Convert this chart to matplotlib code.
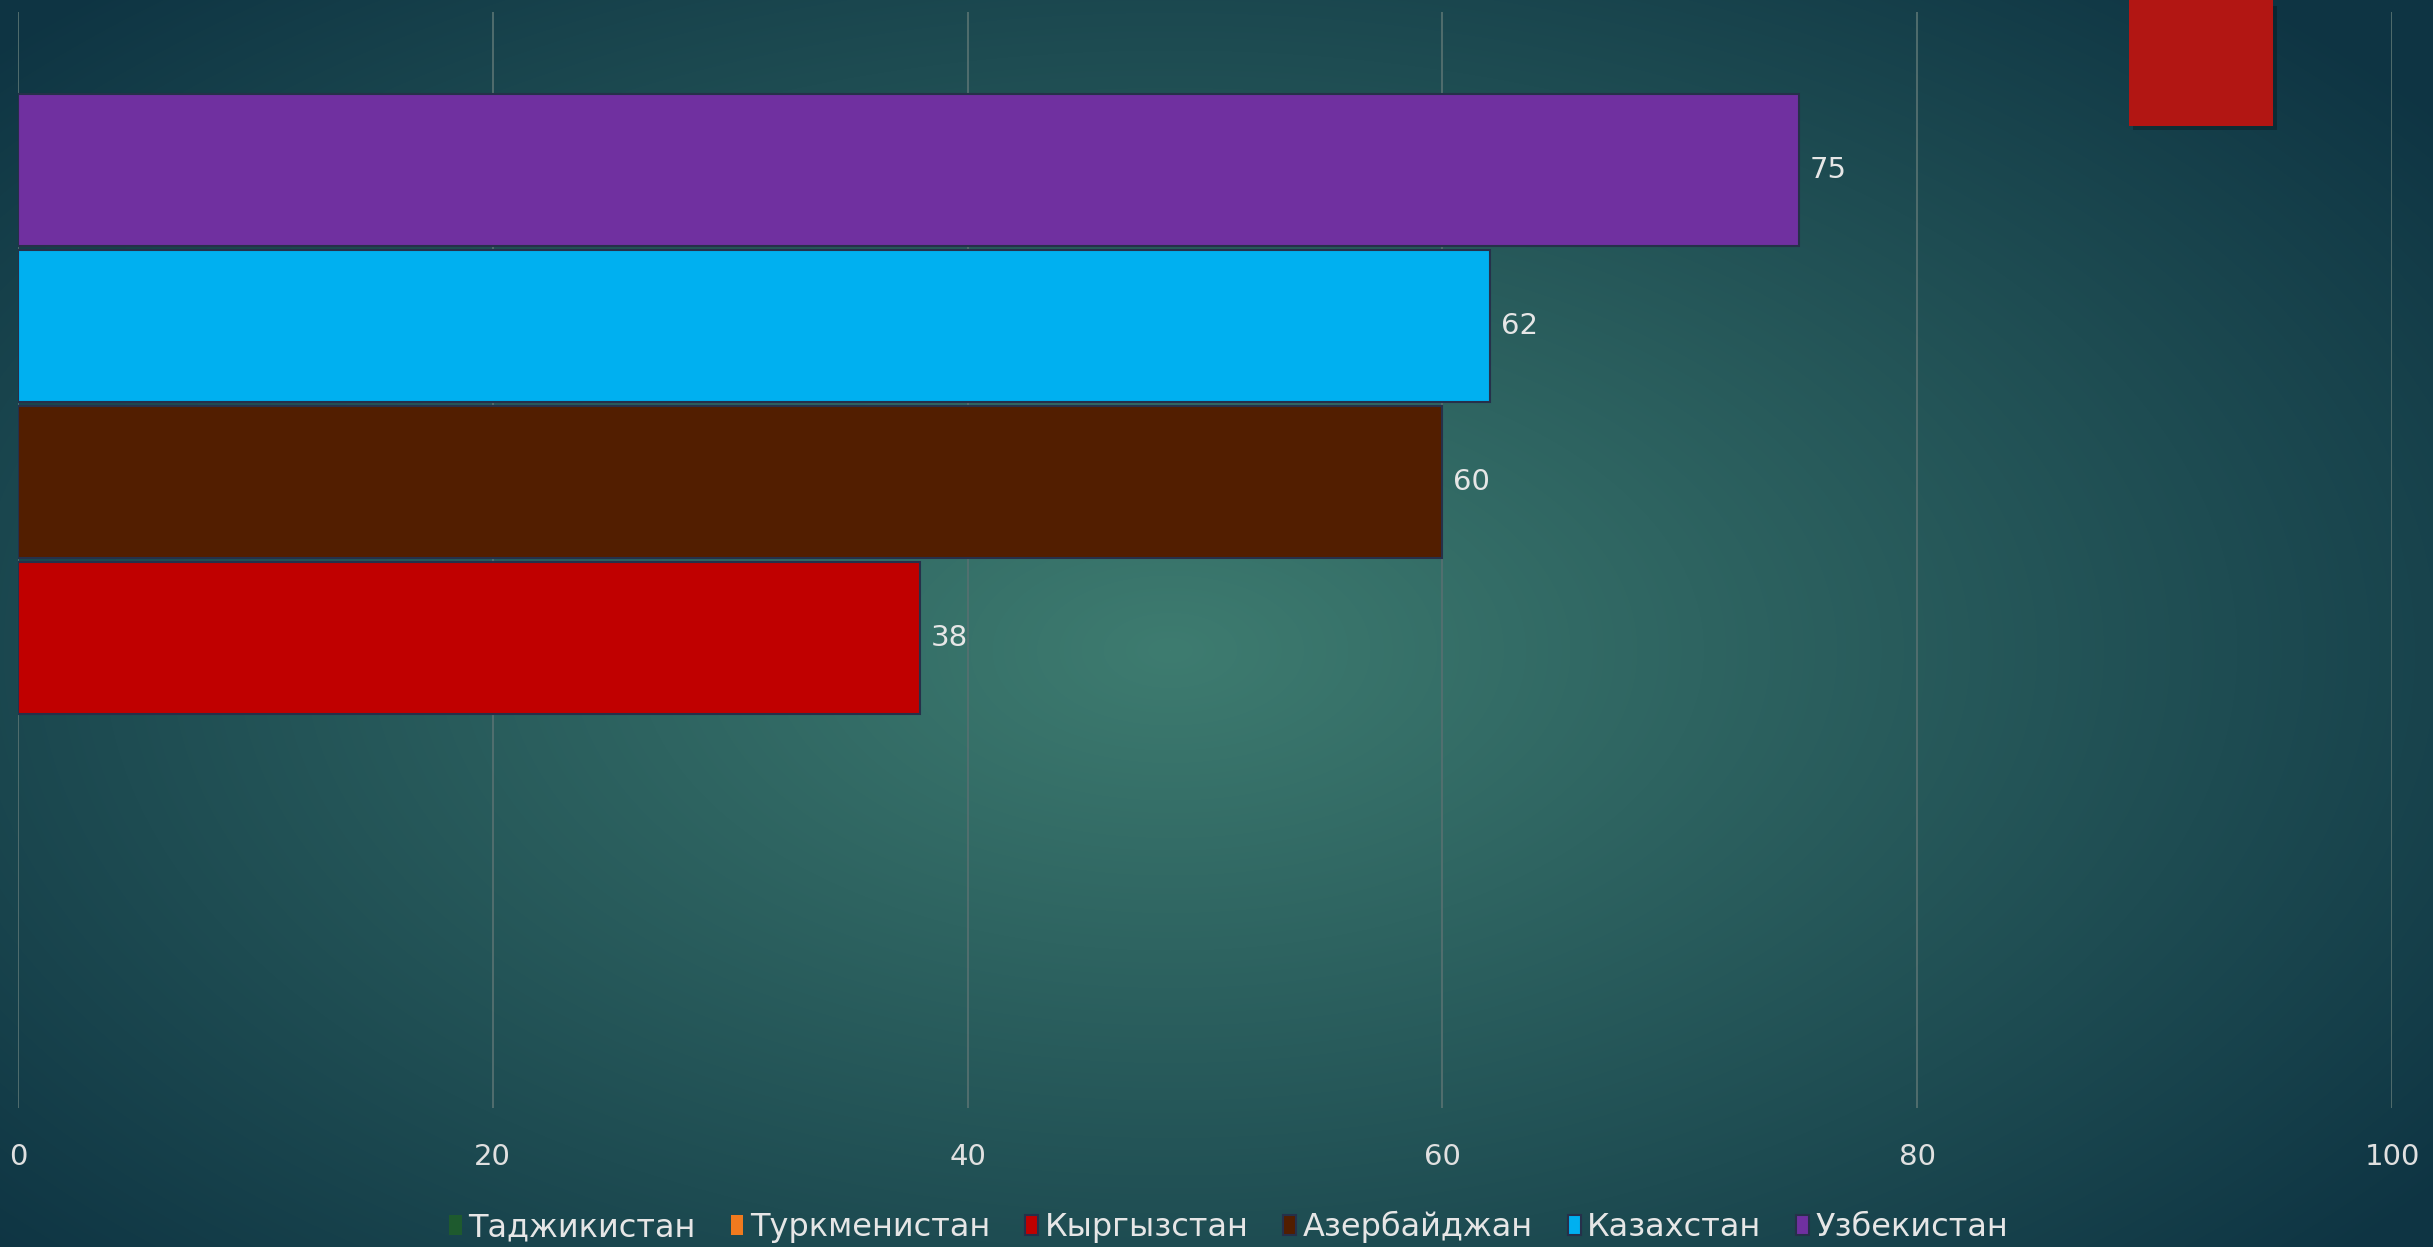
import numpy as np
import matplotlib.pyplot as plt
from matplotlib.colors import to_rgb
from matplotlib.patches import Rectangle

plt.rcParams['font.family'] = ['Liberation Sans Narrow', 'DejaVu Sans']

countries = ['Таджикистан', 'Туркменистан', 'Кыргызстан', 'Азербайджан', 'Казахстан', 'Узбекистан']
values = [0, 0, 38, 60, 62, 75]
colors = ['#1e5a2e', '#f07a1e', '#c00000', '#521e00', '#00b0f0', '#7030a0']
xticks = [0, 20, 40, 60, 80, 100]

W, H = 2433, 1247
fig = plt.figure(figsize=(W / 100, H / 100), dpi=100)

# фон: радиальный градиент
bg = fig.add_axes([0, 0, 1, 1], zorder=-10)
yy, xx = np.mgrid[0:H, 0:W]
r = np.sqrt(((xx - 1170) / 1600.0) ** 2 + ((yy - 650) / 900.0) ** 2)
r = np.clip(r, 0, 1) ** 1.0
c_in = np.array(to_rgb('#3e7c70'))
c_out = np.array(to_rgb('#0e3443'))
img = c_in[None, None, :] * (1 - r[..., None]) + c_out[None, None, :] * r[..., None]
bg.imshow(img, aspect='auto', extent=[0, W, H, 0])
bg.set_xlim(0, W)
bg.set_ylim(H, 0)
bg.axis('off')

# декоративный красный прямоугольник
bg.add_patch(Rectangle((2133, 6), 144, 124, color='#000000', alpha=0.25, lw=0))
bg.add_patch(Rectangle((2129, -2), 144, 128, color='#b21613', lw=0))

ax = fig.add_axes([18 / W, 1 - 1108 / H, (2392 - 18) / W, (1108 - 12) / H])
ax.set_facecolor('none')

for i, (name, v, c) in enumerate(zip(countries, values, colors)):
    ax.barh(i, v, height=0.98, color=c, edgecolor='#26304a' if v > 0 else 'none',
            linewidth=1.5, label=name, zorder=3)
    if v > 0:
        ax.text(v + 0.45, i, str(v), va='center', ha='left', fontsize=21,
                color='#e6e6e6', zorder=4)

ax.set_xlim(0, 100)
ax.set_ylim(-1.013, 6.013)
ax.set_xticks(xticks)
ax.set_yticks([])
ax.grid(axis='x', color='#557070', linewidth=1.3, zorder=0)
ax.tick_params(axis='x', length=0, pad=25, labelsize=21, labelcolor='#e0e0e0')
for s in ax.spines.values():
    s.set_visible(False)

fig.legend(loc='center', bbox_to_anchor=(0.505, 0.016), ncol=6, frameon=False,
           fontsize=23, labelcolor='#e6e6e6', handlelength=0.4, handleheight=0.6,
           handletextpad=0.2, columnspacing=1.1, borderaxespad=0)

fig.savefig('out.png', dpi=100)
